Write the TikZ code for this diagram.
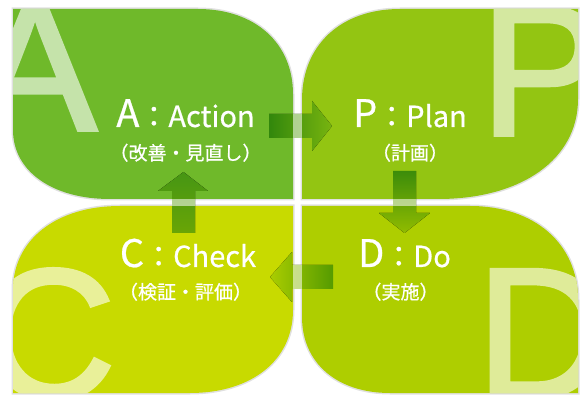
\documentclass[tikz,border=0pt]{standalone}
\usepackage{fontspec}
\setmainfont{Liberation Sans}
\newfontfamily\bigletterfont[FakeBold=2]{Liberation Sans}
\newfontfamily\jpfont[FakeBold=0.6]{Noto Sans CJK JP}
\definecolor{leafA}{RGB}{111,185,42}
\definecolor{leafP}{RGB}{147,197,18}
\definecolor{leafC}{RGB}{200,218,0}
\definecolor{leafD}{RGB}{174,206,0}
\definecolor{arA1}{RGB}{50,135,12}
\definecolor{arA2}{RGB}{120,180,15}
\definecolor{arP1}{RGB}{60,140,10}
\definecolor{arP2}{RGB}{145,188,0}
\definecolor{arD1}{RGB}{85,155,0}
\definecolor{arD2}{RGB}{170,205,0}
\definecolor{arC1}{RGB}{105,165,5}
\definecolor{arC2}{RGB}{70,150,20}
\tikzset{
  leafshadow/.style={draw=black, draw opacity=0.12, line width=3pt},
  bigletter/.style={anchor=base west, inner sep=0pt,
    font=\bigletterfont\fontsize{185}{185}\selectfont},
  lbl/.style={anchor=base, inner sep=0pt, text=white, font=\jpfont},
  gapveil/.style={fill=white, fill opacity=0.55},
}
\newcommand{\bigfirst}[1]{{\fontsize{38}{40}\selectfont #1}}
\newcommand{\restlbl}[1]{{\fontsize{29}{30}\selectfont #1}}
\newcommand{\jpline}[1]{{\fontsize{19}{20}\selectfont #1}}
\def\pathA{(13,9) -- (198,9) .. controls (255,9) and (293,43) .. (293,94) -- (293,199) -- (110,199) .. controls (52,199) and (13,171) .. (13,130) -- cycle}
\def\pathP{(578,9) -- (578,99) .. controls (578,159) and (522,199) .. (438,199) -- (302,199) -- (302,100) .. controls (302,45) and (341,9) .. (400,9) -- cycle}
\def\pathC{(13,393) -- (13,290) .. controls (13,240) and (56,206) .. (120,206) -- (293,206) -- (293,310) .. controls (293,360) and (252,393) .. (190,393) -- cycle}
\def\pathD{(302,206) -- (470,206) .. controls (535,206) and (578,244) .. (578,300) -- (578,393) -- (390,393) .. controls (337,393) and (302,363) .. (302,317) -- cycle}
\def\arrAP{(269,114) -- (312,114) -- (312,101) -- (332,126) -- (312,151) -- (312,138) -- (269,138) -- cycle}
\def\arrPD{(393,171) -- (416,171) -- (416,213) -- (430,213) -- (404.5,233) -- (379,213) -- (393,213) -- cycle}
\def\arrDC{(333,265) -- (333,289) -- (292,289) -- (292,302) -- (270,277) -- (292,252) -- (292,265) -- cycle}
\def\arrCA{(172,233) -- (195,233) -- (195,191) -- (208,191) -- (183.5,172) -- (158,191) -- (172,191) -- cycle}
\begin{document}
\begin{tikzpicture}[x=1pt,y=-1pt]
\useasboundingbox (0,0) rectangle (581,395);
% shadows
\draw[leafshadow] \pathA;
\draw[leafshadow] \pathP;
\draw[leafshadow] \pathC;
\draw[leafshadow] \pathD;
% leaves
\fill[leafA] \pathA;
\fill[leafP] \pathP;
\fill[leafC] \pathC;
\fill[leafD] \pathD;
% big letters
\begin{scope}
  \clip \pathA;
  \node[bigletter, text=leafA!40!white] (bigA) at (-27,130) {A};
\end{scope}
\begin{scope}
  \clip \pathP;
  \node[bigletter, text=leafP!40!white] (bigP) at (480,135) {P};
\end{scope}
\begin{scope}
  \clip \pathC;
  \node[bigletter, text=leafC!40!white] (bigC) at (-18,398) {C};
\end{scope}
\begin{scope}
  \clip \pathD;
  \node[bigletter, text=leafD!40!white] (bigD) at (476,397) {D};
\end{scope}
% arrows
\begin{scope}
  \clip \arrAP;
  \fill[left color=arA1, right color=arA2] (269,100) rectangle (332,152);
  \fill[gapveil] (293,100) rectangle (302,152);
\end{scope}
\begin{scope}
  \clip \arrPD;
  \fill[top color=arP1, bottom color=arP2] (379,171) rectangle (430,233);
  \fill[gapveil] (379,199) rectangle (430,206);
\end{scope}
\begin{scope}
  \clip \arrDC;
  \fill[left color=arD2, right color=arD1] (270,252) rectangle (333,302);
  \fill[gapveil] (293,252) rectangle (302,302);
\end{scope}
\begin{scope}
  \clip \arrCA;
  \fill[top color=arC2, bottom color=arC1] (158,172) rectangle (208,233);
  \fill[gapveil] (158,199) rectangle (208,206);
\end{scope}
% labels
\node[lbl] (labA) at (185.5,127) {\bigfirst{A}\restlbl{：Action}};
\node[lbl] (subA) at (185.5,160) {\jpline{（改善・見直し）}};
\node[lbl] (labP) at (410,127) {\bigfirst{P}\restlbl{：Plan}};
\node[lbl] (subP) at (410,160) {\jpline{（計画）}};
\node[lbl] (labC) at (188,267) {\bigfirst{C}\restlbl{：Check}};
\node[lbl] (subC) at (185.5,299) {\jpline{（検証・評価）}};
\node[lbl] (labD) at (404.5,267) {\bigfirst{D}\restlbl{：Do}};
\node[lbl] (subD) at (400.5,299) {\jpline{（実施）}};
\end{tikzpicture}
\end{document}
